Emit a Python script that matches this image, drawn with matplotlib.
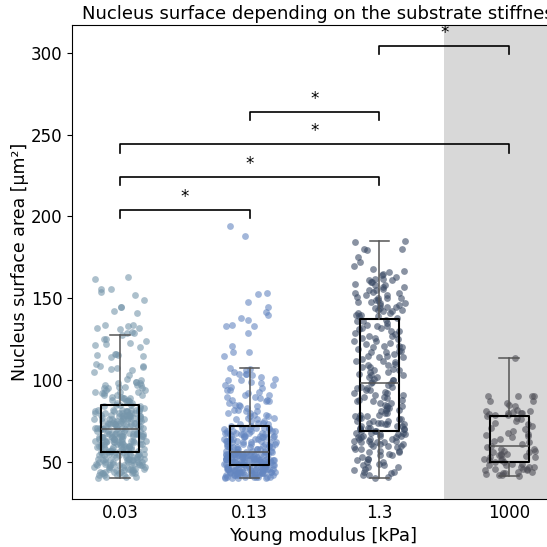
import numpy as np
import matplotlib
matplotlib.use("Agg")
import matplotlib.pyplot as plt

# categories and colours
labels = ["0.03", "0.13", "1.3", "1000"]
colors = ["#7696ab", "#6486c0", "#3a4a64", "#4e4e56"]

# nucleus surface area per substrate [µm²]
area_003 = [
    40, 41, 41, 42, 42, 42, 43, 43, 43, 44,
    44, 44, 45, 45, 45, 46, 46, 46, 46, 47,
    47, 47, 47, 48, 48, 48, 48, 49, 49, 49,
    49, 50, 50, 50, 50, 51, 51, 51, 51, 52,
    52, 52, 52, 53, 53, 53, 53, 54, 54, 54,
    54, 55, 55, 55, 55, 56, 56, 56, 41, 42,
    43, 44, 45, 47, 48, 49, 50, 51, 52, 53,
    54, 55, 43, 46, 48, 50, 52, 54, 44, 49,
    56, 57, 57, 57, 58, 58, 58, 58, 59, 59,
    59, 59, 60, 60, 60, 60, 61, 61, 61, 61,
    62, 62, 62, 62, 63, 63, 63, 63, 64, 64,
    64, 64, 65, 65, 65, 65, 66, 66, 66, 66,
    67, 67, 67, 67, 68, 68, 68, 68, 69, 69,
    57, 58, 59, 60, 61, 62, 63, 64, 65, 66,
    67, 68, 57, 59, 61, 63, 65, 67, 58, 62,
    64, 66, 60, 68, 56, 61, 63, 65, 67, 69,
    69, 70, 70, 70, 71, 71, 71, 71, 72, 72,
    72, 72, 73, 73, 73, 73, 74, 74, 74, 74,
    75, 75, 75, 75, 76, 76, 76, 76, 77, 77,
    77, 77, 78, 78, 78, 78, 79, 79, 79, 79,
    80, 80, 80, 80, 81, 81, 81, 81, 82, 82,
    82, 82, 83, 83, 70, 71, 72, 73, 74, 75,
    76, 77, 78, 79, 80, 81, 82, 70, 72, 74,
    76, 78, 80, 82, 71, 73, 75, 77, 79, 81,
    84, 84, 85, 85, 86, 86, 87, 87, 88, 88,
    89, 89, 90, 90, 91, 91, 92, 92, 93, 93,
    94, 94, 95, 95, 96, 96, 97, 97, 98, 98,
    99, 99, 100, 85, 87, 89, 91, 93, 95, 97,
    162, 163, 156, 154, 155.5, 152, 149, 145, 142.5, 145,
    141, 134, 132, 134, 132, 131, 133, 129, 129, 129.5,
    127.5, 125, 125, 124, 121.5, 123, 120, 122, 115.5, 116,
    114, 115.5, 116, 115, 108.5, 108.5, 110, 108, 107, 106,
    105, 107.5, 103, 101,
]
area_013 = [
    40, 40, 41, 41, 41, 41, 42, 42, 42, 42,
    42, 43, 43, 43, 43, 43, 44, 44, 44, 44,
    44, 45, 45, 45, 45, 45, 46, 46, 46, 46,
    46, 47, 47, 47, 47, 47, 48, 48, 48, 48,
    40, 41, 42, 43, 44, 45, 46, 47, 41, 43,
    45, 47, 42, 44, 46, 48, 40, 41, 42, 43,
    44, 45, 46, 47, 41, 42, 43, 44, 45, 46,
    47, 42, 44, 46, 43,
    48, 49, 49, 49, 49, 49, 50, 50, 50, 50,
    50, 51, 51, 51, 51, 51, 52, 52, 52, 52,
    52, 53, 53, 53, 53, 53, 54, 54, 54, 54,
    54, 55, 55, 55, 55, 55, 56, 56, 49, 50,
    51, 52, 53, 54, 55, 49, 50, 51, 52, 53,
    54, 55, 49, 51, 53, 55, 50, 52, 54, 56,
    49, 50, 51, 52, 53, 54, 55, 50, 52, 54,
    51, 53, 55, 49, 56,
    56, 57, 57, 57, 58, 58, 58, 59, 59, 59,
    60, 60, 60, 61, 61, 61, 62, 62, 62, 63,
    63, 63, 64, 64, 64, 65, 65, 65, 66, 66,
    66, 67, 67, 67, 68, 68, 68, 69, 69, 69,
    70, 70, 70, 71, 71, 71, 72, 72, 57, 59,
    61, 63, 65, 67, 69, 71, 58, 60, 62, 64,
    66, 68, 70, 57, 60, 63, 66, 69, 59, 62,
    65, 68, 58, 61, 64,
    73, 73, 74, 75, 75, 76, 77, 77, 78, 79,
    79, 80, 81, 81, 82, 83, 84, 84, 85, 86,
    87, 87, 88, 89, 90, 90, 91, 92, 93, 94,
    95, 96, 97, 98, 99, 74, 76, 78, 80, 82,
    85, 88, 91, 94, 97, 100, 101, 102, 104, 105,
    194, 188, 152.5, 153.5, 147.5, 145, 141.5, 140, 138, 137,
    134, 133, 133, 129, 121, 117.5, 117, 115, 106, 104,
    103, 107.5, 107, 103.5, 100,
]
area_13 = [
    40, 41, 42, 43, 44, 45, 46, 47, 48, 49,
    50, 51, 52, 53, 54, 55, 56, 57, 58, 59,
    60, 60, 61, 61, 62, 62, 63, 63, 64, 64,
    65, 65, 66, 66, 67, 67, 68, 68, 69, 69,
    44, 48, 52, 56, 58, 60, 62, 64, 66, 68,
    42, 50, 54, 57, 61, 63, 65, 67, 59, 47,
    69, 70, 70, 71, 71, 72, 72, 73, 73, 74,
    74, 75, 75, 76, 77, 77, 78, 79, 80, 81,
    82, 83, 84, 85, 86, 87, 88, 89, 90, 91,
    92, 93, 94, 95, 96, 97, 98, 70, 71, 72,
    73, 74, 76, 78, 80, 82, 84, 86, 88, 90,
    92, 94, 96, 98, 75, 79, 83, 87, 91, 95,
    99, 100, 101, 102, 103, 104, 105, 106, 107, 108,
    109, 110, 111, 112, 113, 114, 115, 116, 117, 118,
    119, 120, 121, 122, 123, 124, 125, 126, 127, 128,
    129, 130, 131, 132, 133, 134, 135, 136, 137, 100,
    103, 106, 109, 112, 115, 118, 121, 124, 127, 130,
    133, 136, 102, 108, 114, 120, 126, 132, 105, 117,
    138, 139, 140, 141, 142, 142, 143, 144, 145, 145,
    146, 147, 147, 148, 149, 150, 150, 151, 152, 153,
    154, 155, 156, 157, 158, 159, 160, 161, 162, 163,
    164, 165, 166, 167, 170, 172, 175, 180, 184.5, 185,
    140, 143, 146, 149, 152, 155, 158, 161, 139, 144,
    148, 153, 157, 162, 141, 150, 160, 168, 179.5, 180,
]
area_1000 = [
    41.5, 42, 42, 43, 43, 44, 44, 45, 45, 46,
    46, 47, 47, 47, 48, 48, 49, 49, 42.5, 45.5,
    50, 50, 51, 51, 52, 52, 53, 53, 54, 54,
    55, 55, 56, 56, 57, 57, 58, 58, 59, 53.5,
    60, 61, 62, 63, 64, 65, 66, 67, 68, 69,
    70, 71, 72, 73, 74, 75, 76, 77, 78, 66.5,
    79, 79.5, 80, 80, 80.5, 81, 85, 86, 87.5, 87,
    90.5, 90.5, 90.5, 90.5, 113.8, 79, 80, 81, 82, 84,
]

# significance brackets: (left group, right group, height)
pairs = [(0, 1), (0, 2), (0, 3), (1, 2), (2, 3)]
heights = [204, 224, 244, 264, 304]

groups = [area_003, area_013, area_13, area_1000]

fig = plt.figure(figsize=(5.47, 5.47), dpi=100)
ax = fig.add_axes([72 / 547, 48 / 547, 502 / 547, 474 / 547])

ax.axvspan(2.5, 3.5, color="#d8d8d8", zorder=0, lw=0)

rng = np.random.default_rng(3)
for i, vals in enumerate(groups):
    x = i + rng.uniform(-0.2, 0.2, len(vals))
    ax.scatter(x, vals, s=24, color=colors[i], alpha=0.6, lw=0, zorder=2)

ax.boxplot(groups, positions=range(4), widths=0.3, showfliers=False,
           boxprops=dict(color="black", lw=1.5),
           medianprops=dict(color="#555555", lw=1.1),
           whiskerprops=dict(color="#555555", lw=1.1),
           capprops=dict(color="#555555", lw=1.1),
           zorder=3)

for (a, b), h in zip(pairs, heights):
    ax.plot([a, a, b, b], [h - 5, h, h, h - 5], color="black", lw=1.2)
    ax.text((a + b) / 2, h + 2.5, "*", ha="center", va="bottom", fontsize=12)

ax.set_xlim(-0.37, 3.5)
ax.set_ylim(27.4, 317)
ax.set_xticks(range(4))
ax.set_xticklabels(labels)
ax.tick_params(labelsize=12)
ax.tick_params(axis="x", length=0)
ax.set_xlabel("Young modulus [kPa]", fontsize=13)
ax.set_ylabel("Nucleus surface area [µm²]", fontsize=12.5, labelpad=1)
ax.set_title("Nucleus surface depending on the substrate stiffness", fontsize=13, pad=4.5)

fig.savefig("out.png", dpi=100)
